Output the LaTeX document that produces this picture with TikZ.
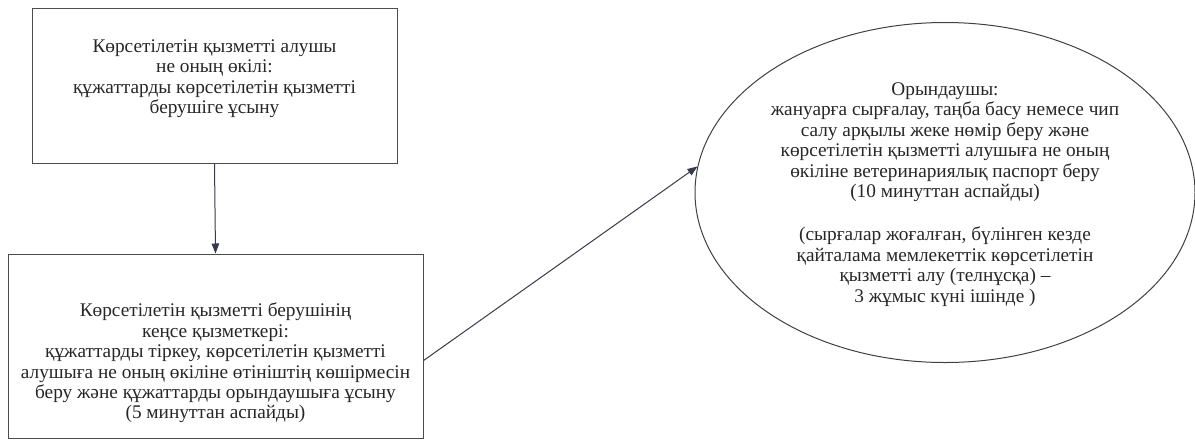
\documentclass[tikz,border=0pt]{standalone}
\usepackage{fontspec}
\setmainfont{Liberation Serif}
\usetikzlibrary{shapes,arrows.meta}
\definecolor{lineInk}{RGB}{55,58,75}
\tikzset{frame/.style = {rectangle, draw=black!70, line width=1pt},
  oval/.style = {ellipse, draw=black!75, line width=1pt, inner sep=0pt,
    minimum width=500pt, minimum height=340pt},
  txt/.style = {align=center, font=\fontsize{19.3}{20.4}\selectfont, inner sep=0pt, text=black!85},
  link/.style = {-{Triangle[length=10pt,width=7.5pt]}, draw=lineInk, line width=1pt}}

\begin{document}
\begin{tikzpicture}[x=1pt, y=-1pt]
  \useasboundingbox (0,0) rectangle (1195,440);

  \node[frame, minimum width=365pt, minimum height=155pt] (applicant) at (214.5,85.5) {};
  \node[frame, minimum width=415pt, minimum height=184pt] (clerk) at (215.5,346) {};
  \node[oval] (executor) at (945,192.5) {};

  \node[txt] (applicantText) at ([yshift=7pt]applicant.center)
    {Көрсетілетін қызметті алушы\\ не оның өкілі:\\ құжаттарды көрсетілетін қызметті\\ берушіге ұсыну};

  \node[txt] (clerkText) at ([yshift=-17pt]clerk.center)
    {Көрсетілетін қызметті берушінің\\ кеңсе қызметкері:\\ құжаттарды тіркеу, көрсетілетін қызметті\\
     алушыға не оның өкіліне өтініштің көшірмесін\\ беру және құжаттарды орындаушыға ұсыну\\ (5 минуттан аспайды)};

  \node[txt] (executorText) at ([yshift=-2pt]executor.center)
    {Орындаушы:\\ жануарға сырғалау, таңба басу немесе чип\\ салу арқылы жеке нөмір беру және\\
     көрсетілетін қызметті алушыға не оның\\ өкіліне ветеринариялық паспорт беру\\ (10 минуттан аспайды)\\[23pt]
     (сырғалар жоғалған, бүлінген кезде\\ қайталама мемлекеттік көрсетілетін\\ қызметті алу (телнұсқа) --\\ 3 жұмыс күні ішінде )};

  \draw[link] (applicant.south) -- (clerk.north);
  \draw[link] (clerk.-4) -- (executor.174);

\end{tikzpicture}
\end{document}
